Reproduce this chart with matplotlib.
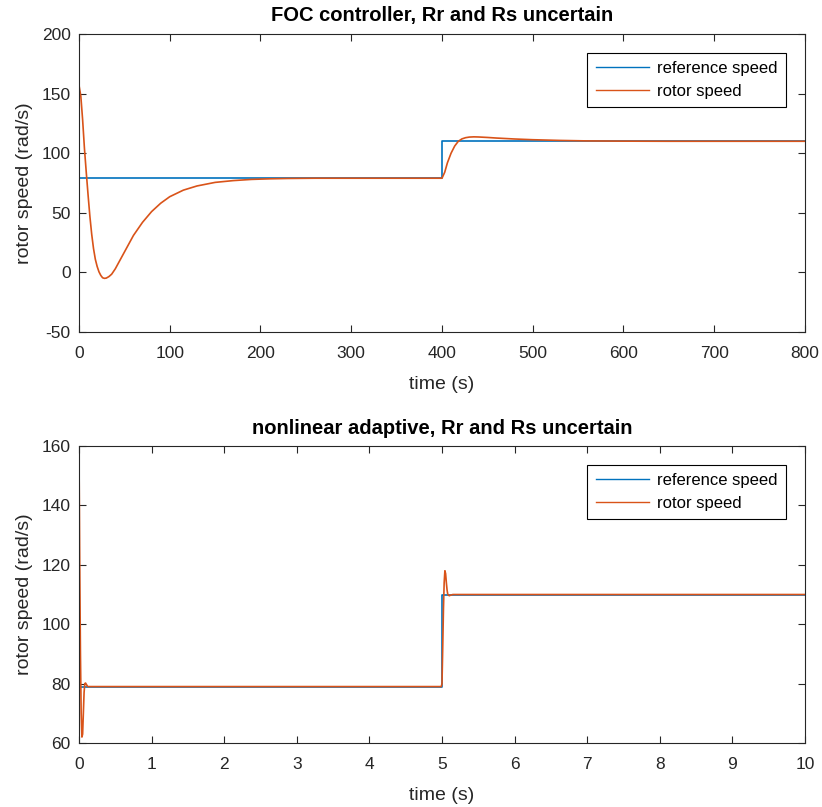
import matplotlib
matplotlib.use("Agg")
import matplotlib.pyplot as plt

plt.rcParams['font.family'] = ['Liberation Sans', 'DejaVu Sans']
plt.rcParams['axes.unicode_minus'] = False

# FOC controller (top)
foc_ref_t = [0, 400, 400, 800]
foc_ref_v = [79, 79, 110, 110]
foc_t = [0, 2, 4, 6, 8, 10, 12, 14, 16, 18, 20, 22, 24, 26, 28, 30, 33, 36,
         40, 45, 50, 55, 60, 70, 80, 90, 100, 115, 130, 150, 170, 190, 210,
         230, 260, 300, 350, 400,
         403, 406, 410, 414, 418, 422, 426, 430, 435, 440, 450, 460, 480,
         500, 530, 560, 600, 650, 800]
foc_v = [157, 148, 128, 104, 84, 65, 47, 32, 20, 11, 5, 0.5, -2.5, -4.5, -5,
         -4.8, -3.5, -1.5, 3, 10, 17, 24, 31, 42, 51, 58, 63.5, 69, 72.5,
         75.5, 77, 78, 78.5, 78.8, 79, 79, 79, 79,
         84, 92, 100, 106, 110, 112, 113, 113.5, 113.7, 113.6, 113.2, 112.7,
         111.9, 111.3, 110.7, 110.3, 110.1, 110, 110]

# nonlinear adaptive (bottom)
nl_ref_t = [0, 5, 5, 10]
nl_ref_v = [79, 79, 110, 110]
nl_t = [0, 0.005, 0.01, 0.02, 0.03, 0.04, 0.05, 0.06, 0.07, 0.08, 0.09, 0.10,
        0.12, 0.15, 0.2, 4.99, 5.0, 5.01, 5.02, 5.03, 5.04, 5.05, 5.06, 5.07,
        5.08, 5.1, 5.12, 5.15, 5.2, 10]
nl_v = [157, 140, 120, 90, 70, 62, 63, 70, 77, 80, 80.2, 79.8, 79, 79, 79,
        79, 80, 92, 105, 114, 118, 117, 114, 111.5, 110, 109.6, 109.8, 110,
        110, 110]

blue = '#0072BD'
orange = '#D95319'
axc = '#262626'

fig = plt.figure(figsize=(8.22, 8.07), dpi=100)
ax1 = fig.add_axes([0.0961, 0.5886, 0.8832, 0.3693])
ax2 = fig.add_axes([0.0961, 0.0793, 0.8832, 0.3680])

panels = [
    (ax1, foc_ref_t, foc_ref_v, foc_t, foc_v, 'FOC controller, Rr and Rs uncertain',
     (0, 800), range(0, 801, 100), (-50, 200), range(-50, 201, 50)),
    (ax2, nl_ref_t, nl_ref_v, nl_t, nl_v, 'nonlinear adaptive, Rr and Rs uncertain',
     (0, 10), range(0, 11), (60, 160), range(60, 161, 20)),
]

for ax, rt, rv, t, v, title, xl, xt, yl, yt in panels:
    ax.plot(rt, rv, color=blue, lw=1.2, label='reference speed')
    ax.plot(t, v, color=orange, lw=1.2, label='rotor speed')
    ax.set_xlim(*xl)
    ax.set_ylim(*yl)
    ax.set_xticks(list(xt))
    ax.set_yticks(list(yt))
    ax.set_title(title, fontsize=14.5, fontweight='bold', color='black', pad=9)
    ax.set_xlabel('time (s)', fontsize=14, color=axc, labelpad=11)
    ax.set_ylabel('rotor speed (rad/s)', fontsize=14, color=axc, labelpad=6)
    ax.tick_params(direction='in', top=True, right=True, labelsize=12.5,
                   colors=axc, length=5, width=0.8)
    ax.tick_params(axis='y', pad=6)
    ax.tick_params(axis='x', pad=10)
    for s in ax.spines.values():
        s.set_color(axc)
        s.set_linewidth(0.8)
    leg = ax.legend(loc='upper right', bbox_to_anchor=(0.974, 0.937),
                    borderaxespad=0, fontsize=12, fancybox=False,
                    framealpha=1, edgecolor='black', handlelength=3.2,
                    borderpad=0.5, labelspacing=0.45, handletextpad=0.5)
    leg.get_frame().set_linewidth(0.8)
    for ln in leg.get_lines():
        ln.set_linewidth(1.0)

fig.savefig('out.png', dpi=100)
